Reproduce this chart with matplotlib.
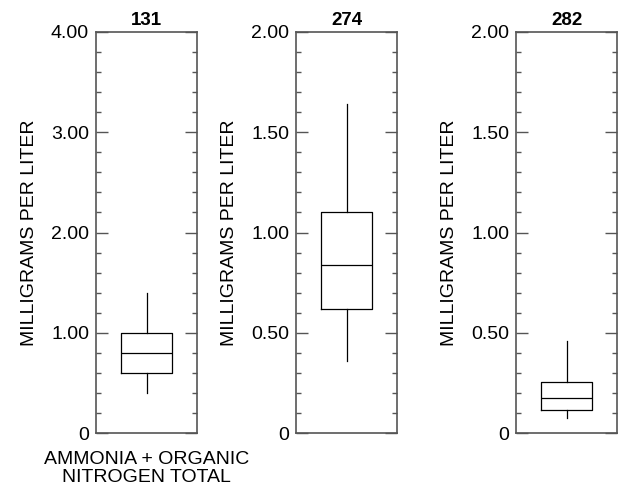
import matplotlib
matplotlib.use("Agg")
import matplotlib.pyplot as plt
from matplotlib.ticker import MultipleLocator

plt.rcParams['font.family'] = ['Liberation Sans', 'DejaVu Sans']

titles = ["131", "274", "282"]
whislo = [0.40, 0.36, 0.075]
q1 = [0.60, 0.62, 0.113]
med = [0.80, 0.84, 0.175]
q3 = [1.00, 1.10, 0.252]
whishi = [1.40, 1.64, 0.46]
ymax = [4.0, 2.0, 2.0]
major_ticks = [[0, 1, 2, 3, 4], [0, 0.5, 1.0, 1.5, 2.0], [0, 0.5, 1.0, 1.5, 2.0]]
major_labels = [["0", "1.00", "2.00", "3.00", "4.00"],
                ["0", "0.50", "1.00", "1.50", "2.00"],
                ["0", "0.50", "1.00", "1.50", "2.00"]]
minor_step = [0.2, 0.1, 0.1]
ylabel = "MILLIGRAMS PER LITER"
xlabel = "AMMONIA + ORGANIC\nNITROGEN TOTAL"

fig = plt.figure(figsize=(6.18, 4.96), dpi=100)
lefts = [96 / 618, 296 / 618, 516 / 618]
W, H = 101 / 618, 401 / 496
B = (496 - 433) / 496
spine_c = '#555555'
fs = 14
fs_title = 13.5

for i in range(3):
    ax = fig.add_axes([lefts[i], B, W, H])
    stats = [dict(whislo=whislo[i], q1=q1[i], med=med[i], q3=q3[i], whishi=whishi[i])]
    ax.bxp(stats, positions=[0], widths=0.5, showcaps=False, showfliers=False,
           boxprops=dict(color='black', linewidth=0.9),
           whiskerprops=dict(color='black', linewidth=0.9),
           medianprops=dict(color='black', linewidth=0.9))
    ax.set_xlim(-0.5, 0.5)
    ax.set_ylim(0, ymax[i])
    ax.set_xticks([])
    ax.set_yticks(major_ticks[i])
    ax.set_yticklabels(major_labels[i], fontsize=fs)
    ax.yaxis.set_minor_locator(MultipleLocator(minor_step[i]))
    ax.tick_params(axis='y', which='major', direction='in', length=8.5, width=1.0,
                   color=spine_c, left=True, right=True, pad=5)
    ax.tick_params(axis='y', which='minor', direction='in', length=3.6, width=1.0,
                   color=spine_c, left=True, right=True)
    for s in ax.spines.values():
        s.set_color(spine_c)
        s.set_linewidth(1.2)
    ax.set_title(titles[i], fontsize=fs_title, fontweight='bold', pad=5)
    ax.set_ylabel(ylabel, fontsize=fs)
    ax.yaxis.set_label_coords(-0.57, 0.5)
    if i == 0:
        ax.set_xlabel(xlabel, fontsize=fs, linespacing=1.1, labelpad=13)

fig.savefig("out.png", dpi=100)
